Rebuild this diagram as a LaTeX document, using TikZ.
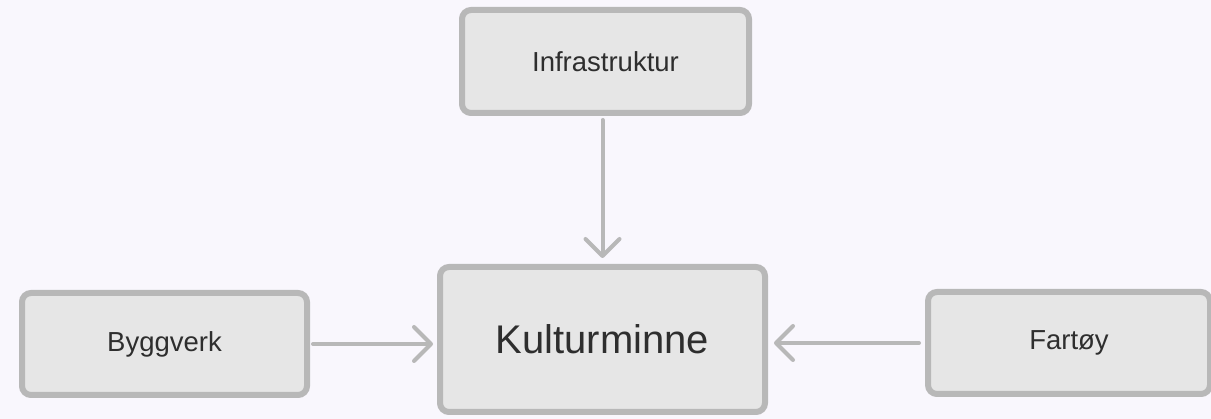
\documentclass[tikz,border=0pt]{standalone}
\usepackage{fontspec}
\setmainfont{Liberation Sans}
\usetikzlibrary{arrows.meta}
\definecolor{bg}{HTML}{F9F7FD}
\definecolor{boxfill}{HTML}{E6E6E6}
\definecolor{boxline}{HTML}{B8B8B8}
\definecolor{txt}{HTML}{2E2E2E}
\begin{document}
\begin{tikzpicture}[x=1pt,y=-1pt,
  box/.style={draw=boxline, fill=boxfill, line width=6pt, rounded corners=9pt,
    text=txt, font=\fontsize{27.5}{31}\selectfont, inner sep=0pt},
  conn/.style={draw=boxline, line width=4pt, line cap=round,
    -{Straight Barb[length=17pt,width=34pt,line cap=round,line join=round]}}]
\fill[bg] (0,0) rectangle (1211,419);
\useasboundingbox (0,0) rectangle (1211,419);
\node[box, minimum width=287pt, minimum height=103pt] (infra) at (605.5,61.5) {Infrastruktur};
\node[box, minimum width=325pt, minimum height=145pt, font=\fontsize{40}{45}\selectfont] (kult) at (602.5,339.5) {Kulturminne};
\node[box, minimum width=285pt, minimum height=102pt] (bygg) at (164.5,344) {Byggverk};
\node[box, minimum width=282pt, minimum height=102pt] (fart) at (1069,343) {Fartøy};
\draw[conn, shorten <=4pt, shorten >=6pt] (kult.north |- infra.south) -- (kult.north);
\draw[conn, shorten <=3pt, shorten >=4pt] (bygg.east) -- (bygg.east -| kult.west);
\draw[conn, shorten <=6pt, shorten >=6pt] (fart.west) -- (fart.west -| kult.east);
\end{tikzpicture}
\end{document}
